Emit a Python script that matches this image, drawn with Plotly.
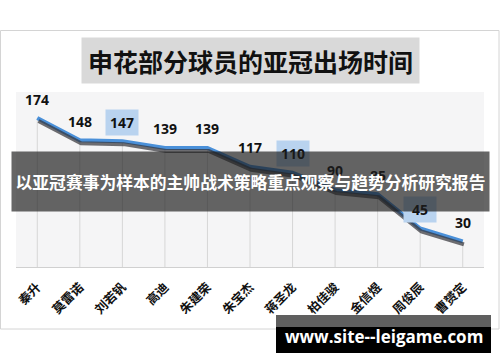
import plotly.graph_objects as go

players = ["秦升", "莫雷诺", "刘若钒", "高迪", "朱建荣", "朱宝杰", "蒋圣龙", "柏佳骏", "金信煜", "周俊辰", "曹赟定"]
minutes = [174, 148, 147, 139, 139, 117, 110, 90, 85, 45, 30]
highlighted = ["刘若钒", "蒋圣龙", "周俊辰"]
title_text = "申花部分球员的亚冠出场时间"
banner_text = "以亚冠赛事为样本的主帅战术策略重点观察与趋势分析研究报告"
watermark_text = "www.site--leigame.com"

W, H = 500, 362
L, R, T, B = 16, 16, 92, 95
PW, PH = W - L - R, H - T - B
YTOP = 204.4
px_per_unit = PH / YTOP
cat_w = PW / len(players)


def fx(px):
    return (px - L) / PW


def fy(py):
    return (H - B - py) / PH


fig = go.Figure()

# drop lines
fig.add_trace(go.Scatter(
    x=players, y=minutes, mode="markers",
    marker=dict(size=1, opacity=0),
    error_y=dict(type="data", symmetric=False, array=[0] * len(minutes),
                 arrayminus=minutes, thickness=1, width=0, color="#d6d6d6"),
    hoverinfo="skip", showlegend=False))

# shadow
dx = 1.2 / cat_w
dy = 3.0 / px_per_unit
fig.add_trace(go.Scatter(
    x=players, y=minutes, mode="lines", xaxis="x2", yaxis="y2",
    line=dict(color="rgba(50,50,55,0.7)", width=4),
    hoverinfo="skip", showlegend=False))

# main line
fig.add_trace(go.Scatter(
    x=players, y=minutes, mode="lines",
    line=dict(color="#4a90d9", width=4),
    hoverinfo="skip", showlegend=False))

# data labels
for p, v in zip(players, minutes):
    hl = p in highlighted
    fig.add_annotation(
        x=p, y=v, xref="x", yref="y", text=str(v), showarrow=False,
        yshift=19, xanchor="center", yanchor="middle",
        font=dict(family="Open Sans", size=14, color="#111", weight="bold"),
        bgcolor="#b9d3ef" if hl else "rgba(0,0,0,0)",
        width=32 if hl else None, height=25 if hl else None,
        borderpad=0)

# title box
fig.add_annotation(
    x=fx(250.3), y=fy(60.3), xref="paper", yref="paper", text=title_text,
    showarrow=False, xanchor="center", yanchor="middle",
    width=337, height=45, bgcolor="#d9d9d9", borderpad=0,
    font=dict(family="Noto Sans CJK SC", size=25, color="#111", weight="bold"))

# banner
fig.add_annotation(
    x=fx(250.5), y=fy(181.5), xref="paper", yref="paper",
    text=banner_text, showarrow=False, xanchor="center", yanchor="middle",
    width=477, height=59, bgcolor="rgba(30,30,30,0.68)", borderpad=0,
    font=dict(family="Noto Sans CJK SC", size=16.8, color="white", weight="bold"))

# watermark box
fig.add_shape(type="rect", xref="paper", yref="paper",
              x0=fx(276), x1=fx(491), y0=fy(353), y1=fy(315),
              fillcolor="black", line=dict(width=0), layer="above")
fig.add_shape(type="rect", xref="paper", yref="paper",
              x0=fx(276), x1=fx(491), y0=fy(327), y1=fy(315),
              fillcolor="#5f5f5f", line=dict(width=0), layer="above")
fig.add_annotation(
    x=fx(383.5), y=fy(336.5), xref="paper", yref="paper",
    text=watermark_text, showarrow=False, xanchor="center", yanchor="middle",
    font=dict(family="Open Sans", size=17, color="white", weight="bold"))

# outer frame
fig.add_shape(type="rect", xref="paper", yref="paper",
              x0=fx(0.5), x1=fx(499), y0=fy(329), y1=fy(30.5),
              line=dict(color="#d4d4d4", width=1), fillcolor="rgba(0,0,0,0)",
              layer="below")

fig.update_layout(
    width=W, height=H, margin=dict(l=L, r=R, t=T, b=B),
    paper_bgcolor="white", plot_bgcolor="#f5f5f6",
    showlegend=False,
    xaxis=dict(type="category", range=[-0.5, len(players) - 0.5],
               showgrid=False, zeroline=False, showline=True,
               linecolor="#d0d0d0", linewidth=1,
               tickangle=-45, ticks="outside", ticklen=7,
               tickcolor="rgba(0,0,0,0)",
               tickfont=dict(family="Noto Sans CJK SC", size=12.5, color="#111",
                             weight="bold")),
    yaxis=dict(range=[0, YTOP], showgrid=False, zeroline=False,
               showticklabels=False, showline=False),
    xaxis2=dict(type="category", overlaying="x",
                range=[-0.5 - dx, len(players) - 0.5 - dx],
                visible=False),
    yaxis2=dict(overlaying="y", range=[dy, YTOP + dy], visible=False),
)

fig.write_html("out.html")
